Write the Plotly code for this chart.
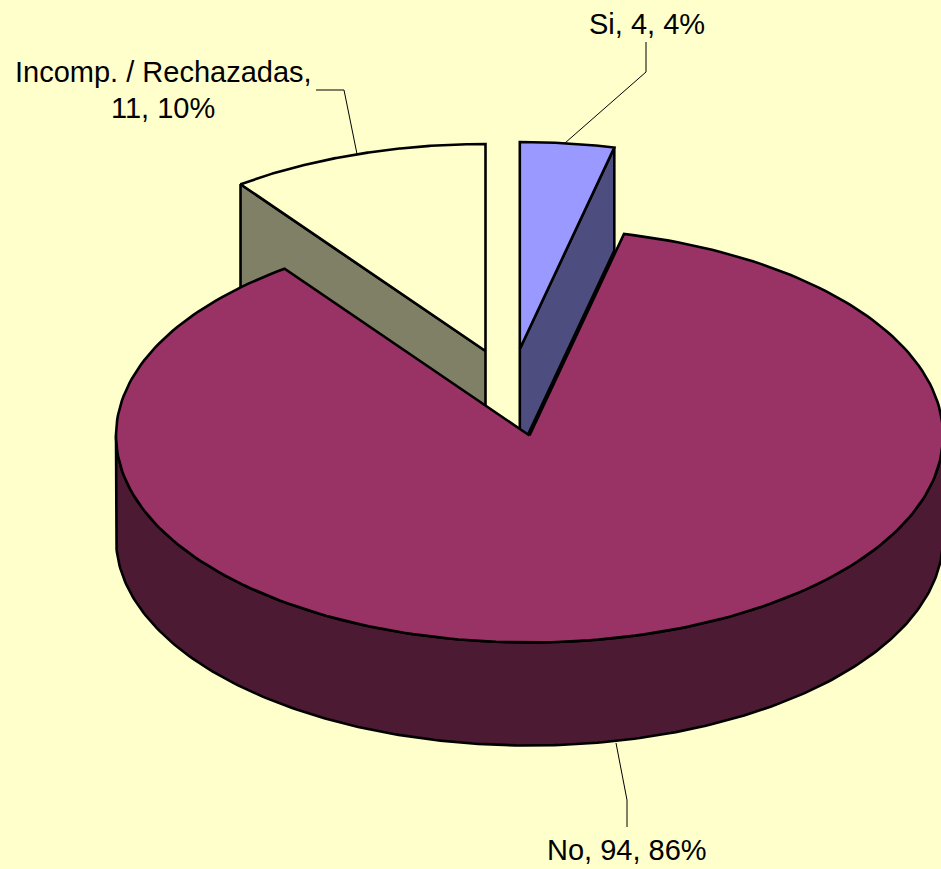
import numpy as np
import plotly.graph_objects as go

# Data
categories = ["Si", "No", "Incomp. / Rechazadas"]
values = [4, 94, 11]

# Styling and projection of the tilted pie
top_colors = ["#9999FF", "#993366", "#FFFFCC"]
side_colors = ["#4D4D80", "#4D1A33", "#808066"]
centers = [(519.8, 349.0), (529.5, 435.5), (485.5, 351.0)]
RX, RY, DEPTH = 413.5, 207.0, 103.0
BG = "#FFFFCC"
FONT = dict(family="Liberation Sans, Arial, sans-serif", size=29, color="#000000")
W, H = 941, 869

total = sum(values)
edges = np.cumsum([0] + values) / total * 2 * np.pi


def rim(center, a0, a1, dy=0.0, n=240):
    a = np.linspace(a0, a1, n)
    return center[0] + RX * np.sin(a), center[1] - RY * np.cos(a) + dy


def poly(x, y, fill, width=2.6):
    return go.Scatter(
        x=list(x), y=list(y), mode="lines", fill="toself", fillcolor=fill,
        line=dict(color="#000000", width=width, shape="linear"),
        hoverinfo="skip", showlegend=False,
    )


def cut_face(center, a):
    x0, y0 = center
    xr, yr = rim(center, a, a, n=1)
    return (
        [x0, xr[0], xr[0], x0, x0],
        [y0, yr[0], yr[0] + DEPTH, y0 + DEPTH, y0],
    )


def wedge(center, a0, a1):
    x, y = rim(center, a0, a1)
    return [center[0], *x, center[0]], [center[1], *y, center[1]]


fig = go.Figure()

# Incomp. / Rechazadas (back left)
i = 2
fig.add_trace(poly(*cut_face(centers[i], edges[i]), side_colors[i]))
fig.add_trace(poly(*wedge(centers[i], edges[i], edges[i + 1]), top_colors[i]))

# Si (back right)
i = 0
fig.add_trace(poly(*cut_face(centers[i], edges[i + 1]), side_colors[i]))
fig.add_trace(poly(*wedge(centers[i], edges[i], edges[i + 1]), top_colors[i]))

# No (front, with its outer wall)
i = 1
xt, yt = rim(centers[i], np.pi / 2, 3 * np.pi / 2)
xb, yb = rim(centers[i], 3 * np.pi / 2, np.pi / 2, dy=DEPTH)
fig.add_trace(poly([*xt, *xb, xt[0]], [*yt, *yb, yt[0]], side_colors[i]))
fig.add_trace(poly(*wedge(centers[i], edges[i], edges[i + 1]), top_colors[i]))

# Leader lines
leaders = [
    ([565, 646, 646], [143, 72, 42]),
    ([616, 627, 627], [743, 800, 827]),
    ([357, 344, 316], [154, 90, 90]),
]
for lx, ly in leaders:
    fig.add_trace(go.Scatter(x=lx, y=ly, mode="lines",
                             line=dict(color="#000000", width=1),
                             hoverinfo="skip", showlegend=False))

# Labels: category, value, percent
pct = [round(v / total * 100) for v in values]
label_pos = [(647, 24), (627, 850), (163, 72)]
for i, (name, v, p) in enumerate(zip(categories, values, pct)):
    if i == 2:
        fig.add_annotation(x=label_pos[i][0], y=label_pos[i][1], text=f"{name},",
                           showarrow=False, font=FONT, xanchor="center", yanchor="middle")
        fig.add_annotation(x=label_pos[i][0], y=label_pos[i][1] + 36, text=f"{v}, {p}%",
                           showarrow=False, font=FONT, xanchor="center", yanchor="middle")
    else:
        fig.add_annotation(x=label_pos[i][0], y=label_pos[i][1], text=f"{name}, {v}, {p}%",
                           showarrow=False, font=FONT, xanchor="center", yanchor="middle")

fig.update_layout(
    width=W, height=H, margin=dict(l=0, r=0, t=0, b=0),
    paper_bgcolor=BG, plot_bgcolor=BG, showlegend=False,
    xaxis=dict(range=[0, W], visible=False, fixedrange=True),
    yaxis=dict(range=[H, 0], visible=False, fixedrange=True),
)

page_fix = (
    "document.documentElement.style.margin='0';"
    "document.body.style.margin='0';"
    "document.body.style.overflow='hidden';"
    "document.documentElement.style.background='#FFFFCC';"
)
fig.write_html("out.html", config=dict(displayModeBar=False),
               default_width=W, default_height=H, full_html=True,
               post_script=page_fix)
